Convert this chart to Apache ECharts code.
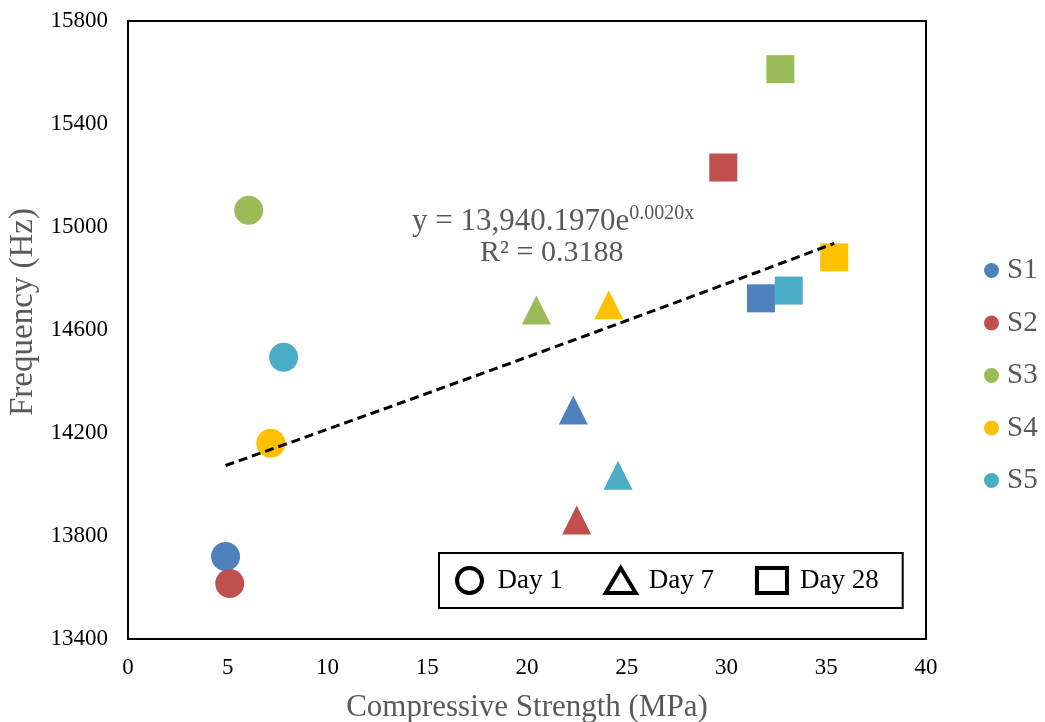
<!DOCTYPE html>
<html>
<head>
<meta charset="utf-8">
<script src="https://cdn.jsdelivr.net/npm/echarts@6/dist/echarts.min.js"></script>
<style>
  html, body { margin: 0; padding: 0; background: #fff; }
  #chart { width: 1045px; height: 722px; }
</style>
</head>
<body>
<div id="chart"></div>
<script>
// samples, one value per sample in each array
const samples = ['S1', 'S2', 'S3', 'S4', 'S5']
const day1X = [4.89, 5.10, 6.05, 7.16, 7.80]
const day1Y = [13720, 13616, 15065, 14160, 14494]
const day7X = [22.32, 22.49, 20.47, 24.10, 24.56]
const day7Y = [14289, 13862, 14678, 14698, 14036]
const day28X = [31.73, 29.84, 32.70, 35.40, 33.12]
const day28Y = [14723, 15231, 15613, 14882, 14753]
const dayNames = ['Day 1', 'Day 7', 'Day 28']

// exponential trendline y = a * e^(b x)
const trendA = 13940.197
const trendB = 0.00195

const colors = ['#4F81BD', '#C0504D', '#9BBB59', '#FFC000', '#4BACC6']
const serif = '"Liberation Serif", "Times New Roman", serif'
const grey = '#595959'

const chart = echarts.init(document.getElementById('chart'))

const allX = day1X.concat(day7X, day28X)
const xMin = Math.min(...allX)
const xMax = Math.max(...allX)
const trendData = []
for (let i = 0; i <= 30; i++) {
  const x = xMin + (xMax - xMin) * i / 30
  trendData.push([x, trendA * Math.exp(trendB * x)])
}

const sampleSeries = samples.map((name, i) => ({
  name: name,
  type: 'scatter',
  itemStyle: { color: colors[i], opacity: 1 },
  z: 2,
  data: [
    { value: [day1X[i], day1Y[i]], symbol: 'circle', symbolSize: 29 },
    { value: [day7X[i], day7Y[i]], symbol: 'triangle', symbolSize: [29, 29] },
    { value: [day28X[i], day28Y[i]], symbol: 'rect', symbolSize: 28 }
  ]
}))

const daySeries = dayNames.map(name => ({
  name: name,
  type: 'scatter',
  data: []
}))

const hollow = { color: '#fff', borderColor: '#000', borderWidth: 4, opacity: 1 }

chart.setOption({
  animation: false,
  textStyle: { fontFamily: serif },
  grid: {
    left: 128,
    top: 21,
    width: 798,
    height: 618,
    containLabel: false,
    outerBoundsMode: 'none',
    show: true,
    borderColor: '#000',
    borderWidth: 2
  },
  xAxis: {
    type: 'value',
    min: 0,
    max: 40,
    interval: 5,
    name: 'Compressive Strength (MPa)',
    nameLocation: 'middle',
    nameGap: 53,
    nameTextStyle: { fontSize: 31, color: grey, fontFamily: serif },
    axisLine: { show: true, lineStyle: { color: '#000', width: 2 } },
    axisTick: { show: false },
    splitLine: { show: false },
    axisLabel: { fontSize: 23, color: '#000', margin: 17, fontFamily: serif }
  },
  yAxis: {
    type: 'value',
    min: 13400,
    max: 15800,
    interval: 400,
    name: 'Frequency (Hz)',
    nameLocation: 'middle',
    nameGap: 84,
    nameTextStyle: { fontSize: 33, color: grey, fontFamily: serif, padding: [0, 0, 0, 36] },
    axisLine: { show: true, lineStyle: { color: '#000', width: 2 } },
    axisTick: { show: false },
    splitLine: { show: false },
    axisLabel: { fontSize: 23, color: '#000', margin: 20, fontFamily: serif, formatter: v => String(v) }
  },
  legend: [
    {
      orient: 'vertical',
      left: 979,
      top: 251,
      selectedMode: false,
      icon: 'circle',
      itemWidth: 15,
      itemHeight: 15,
      itemGap: 23.5,
      data: samples,
      textStyle: { fontSize: 29, lineHeight: 29, color: grey, fontFamily: serif, padding: [0, 0, 0, 3] }
    },
    {
      orient: 'horizontal',
      left: 439,
      top: 553,
      selectedMode: false,
      borderColor: '#000',
      borderWidth: 2,
      padding: [13, 24, 13, 16],
      itemWidth: 30,
      itemHeight: 25,
      itemGap: 41,
      textStyle: { fontSize: 27, color: '#000', fontFamily: serif, padding: [0, 0, 0, 8] },
      data: [
        { name: 'Day 1', icon: 'circle', itemStyle: hollow },
        { name: 'Day 7', icon: 'triangle', itemStyle: hollow },
        { name: 'Day 28', icon: 'rect', itemStyle: hollow }
      ]
    }
  ],
  graphic: [
    {
      type: 'text',
      left: 412,
      top: 204,
      style: {
        text: '{a|y = 13,940.1970e}{b|0.0020x}',
        rich: {
          a: { fontSize: 31, fontFamily: serif, fill: grey, lineHeight: 34 },
          b: { fontSize: 20, fontFamily: serif, fill: grey, lineHeight: 34, padding: [0, 0, 16, 0] }
        }
      }
    },
    {
      type: 'text',
      left: 480,
      top: 237,
      style: { text: 'R² = 0.3188', fontSize: 30, lineHeight: 32, fontFamily: serif, fill: grey }
    }
  ],
  series: sampleSeries.concat(daySeries, [
    {
      name: 'trend',
      type: 'line',
      data: trendData,
      showSymbol: false,
      symbol: 'none',
      z: 5,
      lineStyle: { color: '#000', width: 3, type: [9, 5] }
    }
  ])
})
</script>
</body>
</html>
